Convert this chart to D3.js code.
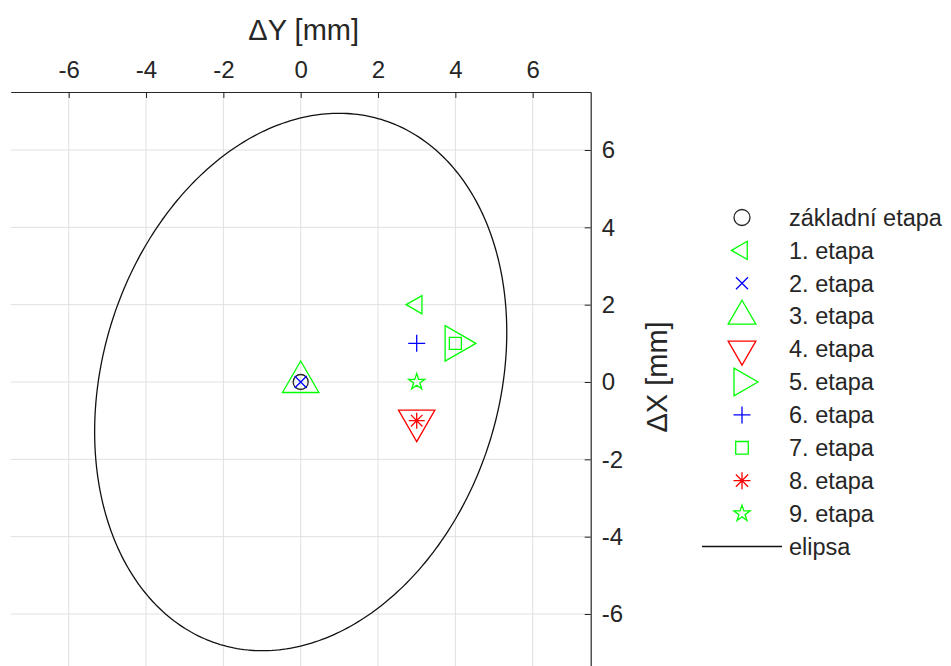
<!DOCTYPE html>
<html><head><meta charset="utf-8">
<script src="https://cdn.jsdelivr.net/npm/d3@7"></script>
<style>
body{margin:0;background:#fff}
svg{display:block}
text{font-family:"Liberation Sans",Arial,Helvetica,sans-serif;fill:#262626}
</style>
</head><body>
<svg id="chart" width="951" height="666"></svg>
<script>
// ---------- data ----------
const stageLabels = ["základní etapa","1. etapa","2. etapa","3. etapa","4. etapa","5. etapa","6. etapa","7. etapa","8. etapa","9. etapa"];
const stageDY = [0, 3, 0, 0, 3, 4, 3, 4, 3, 3];   // horizontal axis (ΔY)
const stageDX = [0, 2, 0, 0, -1, 1, 1, 1, -1, 0];  // vertical axis (ΔX)
const xTicks = [-6, -4, -2, 0, 2, 4, 6];
const yTicks = [-6, -4, -2, 0, 2, 4, 6];
const axisDomain = [-7.5, 7.5];
// ellipse quadratic form (covariance-like) entries: [M11, M12, M22] in mm^2
const ellipseM = [28.4, 6.85, 48.3];
const ellipseLabel = "elipsa";
const xTitle = "ΔY [mm]";
const yTitle = "ΔX [mm]";

// ---------- styles ----------
const GREEN = "#00ff00", BLUE = "#0000ff", RED = "#ff0000", BLACK = "#262626";
const markerStyle = [
  {shape:"circle",  color:BLACK, r:7.5, lr:8},
  {shape:"triLeft", color:GREEN, r:10.5, lr:10.5},
  {shape:"x",       color:BLUE,  r:6,   lr:6},
  {shape:"triUp",   color:GREEN, r:21,  lr:16},
  {shape:"triDown", color:RED,   r:21,  lr:16},
  {shape:"triRight",color:GREEN, r:20.5,lr:16},
  {shape:"plus",    color:BLUE,  r:8.5, lr:8.5},
  {shape:"square",  color:GREEN, r:6,   lr:6.3},
  {shape:"asterisk",color:RED,   r:8,   lr:8.5},
  {shape:"star",    color:GREEN, r:8.5, lr:8.5}
];

function markerPath(shape, r){
  const p = d3.path();
  const tri = (ang) => {
    for (let i=0;i<3;i++){
      const a = ang + i*2*Math.PI/3;
      const px = r*Math.cos(a), py = r*Math.sin(a);
      if(i===0) p.moveTo(px,py); else p.lineTo(px,py);
    }
    p.closePath();
  };
  switch(shape){
    case "circle": p.arc(0,0,r,0,2*Math.PI); p.closePath(); break;
    case "triUp": tri(-Math.PI/2); break;
    case "triDown": tri(Math.PI/2); break;
    case "triLeft": tri(Math.PI); break;
    case "triRight": tri(0); break;
    case "x": p.moveTo(-r,-r);p.lineTo(r,r);p.moveTo(-r,r);p.lineTo(r,-r); break;
    case "plus": p.moveTo(-r,0);p.lineTo(r,0);p.moveTo(0,-r);p.lineTo(0,r); break;
    case "square": p.rect(-r,-r,2*r,2*r); break;
    case "asterisk": {
      const d=r*0.72;
      p.moveTo(-r,0);p.lineTo(r,0);p.moveTo(0,-r);p.lineTo(0,r);
      p.moveTo(-d,-d);p.lineTo(d,d);p.moveTo(-d,d);p.lineTo(d,-d); break;
    }
    case "star": {
      const ri = r*0.382;
      for(let i=0;i<10;i++){
        const a = -Math.PI/2 + i*Math.PI/5;
        const rr = i%2===0 ? r : ri;
        const px = rr*Math.cos(a), py = rr*Math.sin(a);
        if(i===0) p.moveTo(px,py); else p.lineTo(px,py);
      }
      p.closePath(); break;
    }
  }
  return p.toString();
}

// ---------- layout ----------
const svg = d3.select("#chart");
const x = d3.scaleLinear().domain(axisDomain).range([10.7, 590.7]);
const y = d3.scaleLinear().domain(axisDomain).range([672, 92]);
const [x0,x1] = x.range(), [y0,y1] = y.range();

svg.append("defs").append("clipPath").attr("id","clip")
  .append("rect").attr("x",x0).attr("y",y1).attr("width",x1-x0).attr("height",y0-y1);

// grid
const grid = svg.append("g").attr("stroke","#e0e0e0").attr("stroke-width",1);
grid.selectAll(".gv").data(xTicks).join("line")
  .attr("x1",d=>x(d)).attr("x2",d=>x(d)).attr("y1",y1).attr("y2",y0);
grid.selectAll(".gh").data(yTicks).join("line")
  .attr("y1",d=>y(d)).attr("y2",d=>y(d)).attr("x1",x0).attr("x2",x1);

// axes
const fmt = d => String(d);
const axTop = svg.append("g").attr("transform",`translate(0,${y1})`)
  .call(d3.axisTop(x).tickValues(xTicks).tickFormat(fmt).tickSize(-6).tickSizeOuter(0).tickPadding(14));
const axRight = svg.append("g").attr("transform",`translate(${x1},0)`)
  .call(d3.axisRight(y).tickValues(yTicks).tickFormat(fmt).tickSize(-6).tickSizeOuter(0).tickPadding(11));
[axTop, axRight].forEach(g=>{
  g.selectAll("path.domain").attr("stroke","#262626").attr("stroke-width",1.2);
  g.selectAll(".tick line").attr("stroke","#262626").attr("stroke-width",1);
  g.selectAll(".tick text").attr("fill","#262626").style("font-size","24px")
    .attr("font-family",null);
});

// axis titles
svg.append("text").attr("x",(x0+x1)/2 + 3).attr("y",40).attr("text-anchor","middle")
  .style("font-size","29px").text(xTitle);
svg.append("text").attr("transform",`translate(667,${(y0+y1)/2 - 5}) rotate(-90)`)
  .attr("text-anchor","middle").style("font-size","29px").text(yTitle);

// ellipse
const [m11,m12,m22] = ellipseM;
const l11 = Math.sqrt(m11), l21 = m12/l11, l22 = Math.sqrt(m22 - l21*l21);
const angles = d3.range(0, 361, 1).map(a => a*Math.PI/180);
const ellPts = angles.map(t => [l11*Math.cos(t), l21*Math.cos(t) + l22*Math.sin(t)]);
svg.append("path").attr("clip-path","url(#clip)")
  .attr("d", d3.line().x(d=>x(d[0])).y(d=>y(d[1]))(ellPts))
  .attr("fill","none").attr("stroke","#111").attr("stroke-width",1.3);

// markers (draw in order)
const mg = svg.append("g");
stageLabels.forEach((lab,i)=>{
  const st = markerStyle[i];
  mg.append("path").attr("transform",`translate(${x(stageDY[i])},${y(stageDX[i])})`)
    .attr("d", markerPath(st.shape, st.r))
    .attr("fill","none").attr("stroke",st.color).attr("stroke-width",1.3);
});

// legend
const lg = svg.append("g");
const rowY = i => 217.5 + i*32.9;
stageLabels.forEach((lab,i)=>{
  const st = markerStyle[i];
  lg.append("path").attr("transform",`translate(742,${rowY(i)})`)
    .attr("d", markerPath(st.shape, st.lr))
    .attr("fill","none").attr("stroke",st.color).attr("stroke-width",1.3);
  lg.append("text").attr("x",789).attr("y",rowY(i)).attr("dy","0.35em")
    .style("font-size","23.5px").text(lab);
});
const ei = stageLabels.length;
lg.append("line").attr("x1",702).attr("x2",782).attr("y1",rowY(ei)).attr("y2",rowY(ei))
  .attr("stroke","#111").attr("stroke-width",1.3);
lg.append("text").attr("x",789).attr("y",rowY(ei)).attr("dy","0.35em")
  .style("font-size","23.5px").text(ellipseLabel);
</script>
</body></html>
